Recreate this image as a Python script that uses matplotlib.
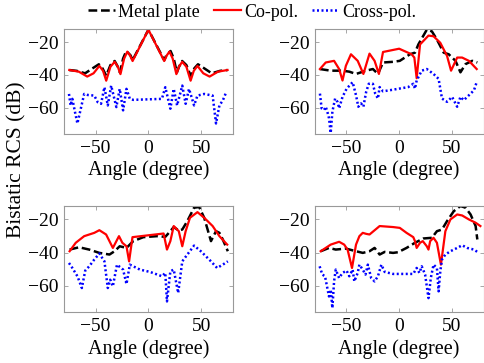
import matplotlib
matplotlib.use("Agg")
import matplotlib.pyplot as plt

plt.rcParams['font.family'] = ['Liberation Serif', 'DejaVu Serif']
plt.rcParams['mathtext.fontset'] = 'stix'

### DATA (angle in degree, RCS in dB)
# panel (a) top-left
a_metal_x = [-75, -68, -60, -53, -47, -43.5, -40, -36, -32, -29, -27, -24, -21, -17, -15, 0,
             15, 17, 21, 24, 27, 29, 32, 36, 40, 43.5, 47, 53, 60, 68, 75]
a_metal_y = [-37, -37.5, -39, -36, -33.5, -36, -40.5, -34, -31.5, -35, -38.5, -30, -25.4, -28, -31, -12.4,
             -31, -28, -25.4, -30, -38.5, -35, -31.5, -34, -40.5, -36, -33.5, -36, -39, -37.5, -37]
a_co_x = [-75, -66, -58, -52, -46.5, -43, -40, -36, -32, -29, -26.5, -23, -20, -17.5, -15, 0,
          15, 17.5, 20, 23, 26.5, 29, 32, 36, 40, 43, 46.5, 52, 58, 66, 75]
a_co_y = [-37, -38, -41, -39, -34.5, -37.5, -43.5, -35, -32, -35, -39.5, -30, -25.8, -28, -31.5, -12.4,
          -31.5, -28, -25.8, -30, -39.5, -35, -32, -35, -43.5, -37.5, -34.5, -39, -41, -38, -37]
a_cross_x = [-75.3, -73.7, -72.1, -69.6, -67.3, -64.1, -60.9, -57.7, -51.3, -48.1, -44.9, -41.7, -38.5,
             -35.3, -30.4, -27.2, -24.0, -20.8, -17.6, -14.4, 12.8, 16.0, 20.8, 24.0, 27.2, 32.1, 35.3,
             38.5, 43.3, 46.5, 52.9, 60.9, 64.1, 67.3, 70.5, 73.7]
a_cross_y = [-51.6, -58.6, -54.6, -62.6, -69.6, -60.6, -51.6, -52.2, -52.6, -56.6, -57.6, -47.5, -58.6,
             -46.5, -59.6, -48.5, -61.6, -48.5, -54.6, -55.2, -54.6, -47.5, -60.6, -48.5, -58.6, -46.5, -57.6,
             -48.5, -58.6, -52.6, -51.6, -52.6, -69.6, -58.6, -55.6, -50.6]

# panel (b) top-right
b_metal_x = [-75.1, -64.9, -53.7, -47.3, -40.9, -31.3, -24.9, -20.1, -15.3, -5.8, 0.6, 10.2, 15.0, 18.2,
             26.2, 31.0, 35.8, 42.2, 47.0, 53.4, 58.1, 62.9, 69.3, 74.1]
b_metal_y = [-36.4, -37.4, -37.4, -38.0, -39.4, -37.4, -36.4, -39.4, -32.4, -32.0, -31.4, -27.4, -26.4, -21.4,
             -12.4, -13.4, -18.4, -26.4, -27.4, -31.4, -38.4, -33.4, -31.4, -32.4]
b_co_x = [-75.1, -69.6, -61.7, -56.9, -53.7, -50.5, -45.7, -39.3, -33.9, -28.1, -23.3, -19.2, -15.3, 0,
          11.8, 14.4, 16.6, 19.8, 27.8, 32.6, 39.0, 45.4, 49.2, 55.0, 59.7, 66.1, 73.5]
b_co_y = [-36.4, -32.4, -31.4, -36.4, -43.4, -34.4, -27.4, -31.4, -39.4, -27.0, -31.4, -39.4, -26.0, -24.0,
          -27.4, -29.4, -42.0, -21.4, -16.0, -16.4, -20.4, -28.4, -37.4, -29.4, -29.4, -31.4, -36.4]
b_cross_x = [-75.1, -73.5, -71.2, -69.6, -68.1, -66.5, -64.9, -63.3, -60.7, -58.5, -56.9, -53.7, -49.8,
             -44.1, -40.9, -38.7, -36.1, -33.9, -31.3, -28.8, -24.9, -22.7, -20.1, -18.5, -15.3, -5.8, 8.6,
             13.4, 15.0, 16.6, 21.4, 26.2, 32.6, 37.4, 40.6, 45.4, 50.2, 53.4, 55.0, 58.1, 61.3, 64.5,
             67.7, 70.9, 73.5]
b_cross_y = [-51.4, -60.4, -61.4, -59.4, -62.4, -66.4, -75.4, -62.4, -54.4, -56.4, -60.4, -53.4, -48.4,
             -44.4, -52.4, -59.4, -57.4, -59.4, -50.4, -45.4, -45.4, -51.4, -54.4, -47.4, -50.0, -49.0, -47.4,
             -45.4, -48.4, -43.4, -37.4, -36.4, -39.4, -42.4, -54.4, -56.4, -53.4, -57.4, -59.4, -53.4, -55.4,
             -53.4, -51.4, -49.4, -44.4]

# panel (c) bottom-left
c_metal_x = [-74.7, -65.7, -56.1, -46.5, -36.9, -32.1, -27.2, -20.8, -14.4, -4.8, 8.0, 16.0, 20.8, 24.0,
             28.8, 32.1, 36.9, 43.3, 48.1, 52.9, 59.3, 64.1, 67.3, 70.5, 75.3]
c_metal_y = [-38.2, -36.8, -38.2, -40.2, -41.2, -39.2, -36.2, -37.2, -33.1, -30.7, -30.1, -30.5, -27.1, -24.6,
             -26.7, -26.1, -21.0, -12.9, -12.5, -19.0, -33.1, -27.1, -28.1, -32.1, -39.2]
c_co_x = [-74.7, -68.9, -60.9, -51.3, -46.5, -40.1, -33.7, -27.9, -24.7, -20.8, -18.3, -15.1, 14.4, 17.6,
          20.8, 24.0, 28.8, 32.1, 35.3, 39.4, 46.5, 52.9, 60.9, 67.3, 74.7]
c_co_y = [-39.2, -34.1, -30.1, -28.1, -26.5, -29.1, -37.2, -30.1, -34.1, -36.2, -45.3, -30.7, -28.5, -38.2,
          -33.1, -24.0, -27.1, -36.2, -27.1, -19.0, -15.6, -19.0, -24.0, -30.1, -35.2]
c_cross_x = [-75.3, -72.1, -67.3, -63.1, -59.9, -56.1, -51.3, -46.5, -41.7, -38.5, -36.2, -33.7, -29.8,
             -24.0, -20.8, -17.6, -8.0, 1.6, 12.8, 16.0, 17.6, 20.8, 24.0, 28.2, 32.1, 36.9, 43.3, 49.7,
             59.3, 65.1, 70.5, 75.3]
c_cross_y = [-46.3, -49.3, -54.3, -61.4, -50.9, -48.3, -44.2, -40.6, -45.3, -61.4, -56.4, -60.4, -47.3,
             -50.3, -59.0, -47.3, -50.3, -51.7, -54.3, -52.3, -69.5, -51.3, -50.3, -64.4, -45.3, -41.2, -35.8,
             -39.2, -45.3, -49.3, -47.3, -45.3]

# panel (d) bottom-right
d_metal_x = [-74.4, -66.5, -60.1, -50.5, -40.9, -34.5, -28.1, -23.3, -18.5, -13.7, -5.8, -1.0, 7.0, 15.0,
             23.0, 31.0, 35.8, 40.6, 45.4, 51.8, 58.1, 62.9, 67.7, 72.5, 74.1]
d_metal_y = [-39.2, -37.2, -38.2, -37.6, -39.2, -40.2, -39.2, -37.2, -41.2, -39.6, -40.2, -39.8, -37.2, -34.1,
             -31.5, -31.1, -27.1, -26.1, -21.0, -15.0, -11.9, -12.9, -17.0, -24.0, -32.1]
d_co_x = [-74.4, -69.6, -64.9, -56.9, -52.1, -48.9, -44.7, -40.9, -37.7, -34.5, -31.3, -28.1, -18.5, -5.8,
          0.6, 7.0, 13.4, 15.0, 16.6, 19.8, 22.4, 26.2, 27.8, 29.4, 32.6, 35.8, 39.6, 43.8, 48.6, 55.0,
          59.7, 66.1, 72.5, 77.0]
d_co_y = [-39.2, -37.2, -35.2, -33.5, -35.2, -38.2, -49.3, -35.2, -30.1, -28.1, -28.7, -29.1, -24.0, -24.6,
          -25.1, -28.1, -30.7, -33.1, -37.2, -34.1, -33.1, -36.2, -38.2, -33.1, -31.1, -34.1, -47.3, -27.1,
          -20.0, -17.0, -17.6, -20.0, -22.0, -24.0]
d_cross_x = [-75.4, -72.8, -70.3, -68.1, -66.5, -64.9, -63.3, -61.7, -60.1, -56.9, -53.7, -49.8, -47.3,
             -44.1, -42.5, -39.3, -37.7, -34.5, -31.9, -29.7, -26.5, -23.3, -20.1, -16.9, -13.7, -5.8, 13.4,
             16.6, 19.2, 21.4, 24.6, 27.8, 30.0, 32.6, 35.8, 37.4, 39.0, 40.6, 43.8, 48.6, 55.0, 59.7, 64.5,
             70.9, 74.1]
d_cross_y = [-48.3, -53.3, -54.3, -61.4, -66.5, -62.4, -73.5, -57.4, -50.3, -55.4, -52.3, -50.9, -54.3,
             -50.3, -57.4, -52.3, -47.3, -50.3, -53.3, -47.3, -55.4, -57.4, -54.3, -47.3, -51.7, -52.9, -52.9,
             -49.3, -52.3, -48.3, -53.3, -67.5, -55.4, -47.3, -49.3, -63.4, -51.3, -44.2, -41.2, -39.2, -37.2,
             -35.6, -37.2, -38.2, -39.6]

panels = [
    (a_metal_x, a_metal_y, a_co_x, a_co_y, a_cross_x, a_cross_y),
    (b_metal_x, b_metal_y, b_co_x, b_co_y, b_cross_x, b_cross_y),
    (c_metal_x, c_metal_y, c_co_x, c_co_y, c_cross_x, c_cross_y),
    (d_metal_x, d_metal_y, d_co_x, d_co_y, d_cross_x, d_cross_y),
]

### PLOT
fig = plt.figure(figsize=(4.85, 3.63), dpi=100)
rects = [
    [0.132, 0.631, 0.348, 0.289],
    [0.649, 0.631, 0.348, 0.289],
    [0.132, 0.140, 0.348, 0.292],
    [0.649, 0.140, 0.348, 0.292],
]

for rect, (mx, my, cx, cy, xx, xy) in zip(rects, panels):
    ax = fig.add_axes(rect)
    ax.plot(mx, my, '--', color='black', lw=1.8, dashes=(3.5, 1.5), label='Metal plate')
    ax.plot(cx, cy, '-', color='red', lw=1.6, label='Co-pol.')
    ax.plot(xx, xy, ':', color='blue', lw=1.8, dashes=(0.8, 1.0), label='Cross-pol.')
    ax.set_xlim(-80, 80)
    ax.set_ylim(-76, -12)
    ax.set_xticks([-50, 0, 50])
    ax.set_yticks([-60, -40, -20])
    ax.set_xticklabels(['\u221250', '0', '50'])
    ax.set_yticklabels(['\u221260', '\u221240', '\u221220'])
    ax.tick_params(direction='in', top=True, right=True, length=3, width=0.6,
                   colors='#999999', labelcolor='black', labelsize=14, pad=4)
    for s in ax.spines.values():
        s.set_color('#999999')
        s.set_linewidth(0.8)
    ax.set_xlabel('Angle (degree)', fontsize=14.5, labelpad=3)

fig.text(0.034, 0.56, 'Bistatic RCS (dB)', rotation=90, fontsize=15.5,
         va='center', ha='center')

handles, labels = ax.get_legend_handles_labels()
fig.legend(handles, labels, loc='upper center', bbox_to_anchor=(0.52, 1.035), ncol=3,
           frameon=False, fontsize=13, handlelength=1.5, handletextpad=0.15,
           columnspacing=0.8)

fig.savefig('out.png', dpi=100)
